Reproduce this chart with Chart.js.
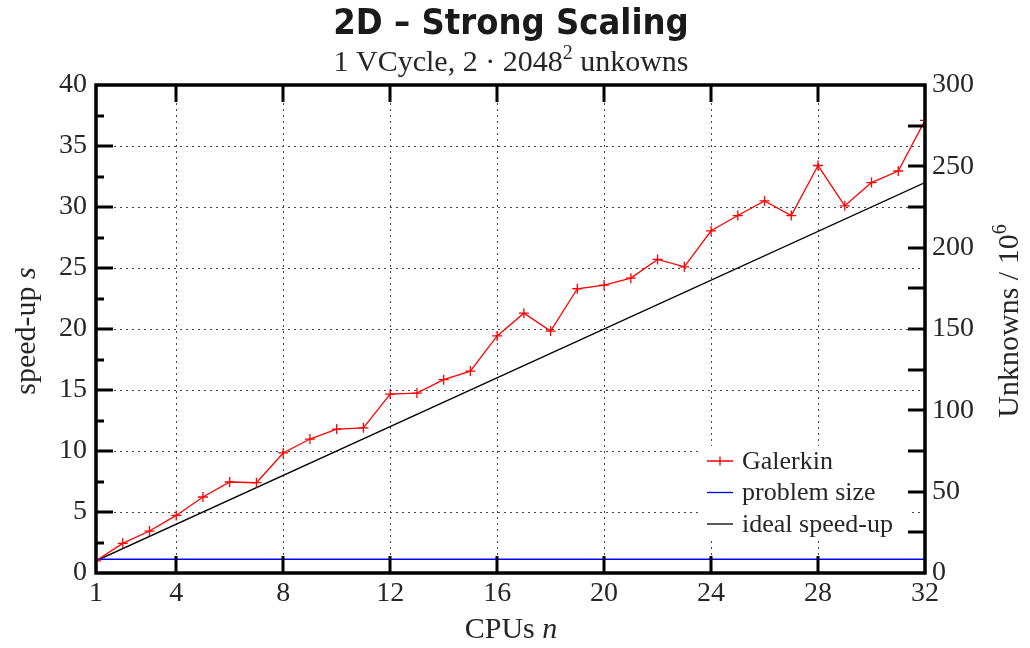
<!DOCTYPE html>
<html>
<head>
<meta charset="utf-8">
<title>2D Strong Scaling</title>
<script src="https://cdn.jsdelivr.net/npm/chart.js@4.4.1/dist/chart.umd.min.js"></script>
<style>
  html, body { margin: 0; padding: 0; background: #fff; }
  canvas { display: block; }
</style>
</head>
<body>
<canvas id="chart" width="1030" height="648"></canvas>
<script>
// measured speed-up per CPU count
const cpus = [1, 2, 3, 4, 5, 6, 7, 8, 9, 10, 11, 12, 13, 14, 15, 16,
              17, 18, 19, 20, 21, 22, 23, 24, 25, 26, 27, 28, 29, 30, 31, 32];
const galerkin = [1.0, 2.43, 3.44, 4.72, 6.23, 7.46, 7.4, 9.84, 10.98, 11.8, 11.9, 14.67,
                  14.75, 15.85, 16.55, 19.43, 21.3, 19.83, 23.3, 23.6, 24.17, 25.7, 25.1, 28.05,
                  29.3, 30.5, 29.3, 33.4, 30.1, 32.0, 32.95, 37.1];

// ideal speed-up s = n, drawn between its end points
const idealCpus = [1, 32];
const idealSpeedup = [1, 32];

// problem size in 10^6 unknowns (2 * 2048^2), constant over n
const sizeCpus = [1, 32];
const problemSize = [8.39, 8.39];

const xTicks = [1, 4, 8, 12, 16, 20, 24, 28, 32];
const speedupTicks = [0, 5, 10, 15, 20, 25, 30, 35, 40];
const unknownTicks = [0, 50, 100, 150, 200, 250, 300];

const SERIF = '"Liberation Serif", "DejaVu Serif", serif';
const TEXT = '#262626';

const pairs = (xs, ys) => xs.map((x, i) => ({ x: x, y: ys[i] }));

// draws a run of text pieces centred on (x, y), optionally rotated
function drawRich(ctx, parts, x, y, angle) {
  ctx.save();
  ctx.translate(x, y);
  if (angle) ctx.rotate(angle);
  ctx.textBaseline = 'middle';
  ctx.textAlign = 'left';
  let total = 0;
  parts.forEach(p => { ctx.font = p.font; total += ctx.measureText(p.text).width; });
  let cx = -total / 2;
  parts.forEach(p => {
    ctx.font = p.font;
    ctx.fillStyle = TEXT;
    ctx.fillText(p.text, cx, p.dy || 0);
    cx += ctx.measureText(p.text).width;
  });
  ctx.restore();
}

const legendItems = [
  { label: 'Galerkin', color: '#ff0000', marker: true },
  { label: 'problem size', color: '#0000ff', marker: false },
  { label: 'ideal speed-up', color: '#000000', marker: false }
];

const framePlugin = {
  id: 'frame',
  beforeDatasetsDraw(chart) {
    // blank out the grid behind the legend
    const ctx = chart.ctx;
    ctx.save();
    ctx.fillStyle = '#fff';
    ctx.fillRect(698, 446, 210, 92);
    ctx.restore();
  },
  afterDraw(chart) {
    const ctx = chart.ctx;
    const a = chart.chartArea;
    const xs = chart.scales.x, yl = chart.scales.y, yr = chart.scales.y2;
    ctx.save();
    ctx.strokeStyle = '#000';
    ctx.lineCap = 'butt';

    // inward ticks
    ctx.lineWidth = 3;
    ctx.beginPath();
    xTicks.slice(1, -1).forEach(v => {
      const px = Math.round(xs.getPixelForValue(v));
      ctx.moveTo(px, a.bottom); ctx.lineTo(px, a.bottom - 17);
      ctx.moveTo(px, a.top); ctx.lineTo(px, a.top + 17);
    });
    for (let v = 2.5; v < 40; v += 2.5) {
      const py = Math.round(yl.getPixelForValue(v));
      const len = (v % 5 === 0) ? 17 : 8;
      ctx.moveTo(a.left, py); ctx.lineTo(a.left + len, py);
    }
    for (let v = 25; v < 300; v += 25) {
      const py = Math.round(yr.getPixelForValue(v));
      ctx.moveTo(a.right, py); ctx.lineTo(a.right - 17, py);
    }
    ctx.stroke();

    // frame
    ctx.lineWidth = 3.5;
    ctx.strokeRect(a.left, a.top, a.right - a.left, a.bottom - a.top);

    // legend
    ctx.lineWidth = 1.3;
    legendItems.forEach((it, i) => {
      const y = 461 + i * 31.5;
      ctx.strokeStyle = it.color;
      ctx.beginPath();
      ctx.moveTo(707, y); ctx.lineTo(733, y);
      if (it.marker) {
        ctx.moveTo(720, y - 4.5); ctx.lineTo(720, y + 4.5);
      }
      ctx.stroke();
      ctx.fillStyle = TEXT;
      ctx.font = '26px ' + SERIF;
      ctx.textBaseline = 'middle';
      ctx.fillText(it.label, 742, y + 1);
    });

    // titles
    ctx.fillStyle = '#1a1a1a';
    ctx.font = 'bold 36px "DejaVu Sans Condensed", "Roboto", sans-serif';
    ctx.textAlign = 'center';
    ctx.textBaseline = 'middle';
    ctx.fillText('2D \u2013 Strong Scaling', 511, 25);

    const f = '30px ' + SERIF;
    const fs = '20px ' + SERIF;
    const fi = 'italic 30px ' + SERIF;
    drawRich(ctx, [
      { text: '1 VCycle, 2 \u00b7 2048', font: f },
      { text: '2', font: fs, dy: -9 },
      { text: ' unkowns', font: f }
    ], 511, 63, 0);

    drawRich(ctx, [
      { text: 'CPUs ', font: f },
      { text: 'n', font: fi }
    ], 511, 630, 0);

    drawRich(ctx, [
      { text: 'speed-up ', font: f },
      { text: 's', font: fi }
    ], 27, 331, -Math.PI / 2);

    drawRich(ctx, [
      { text: 'Unknowns / 10', font: f },
      { text: '6', font: fs, dy: -9 }
    ], 1010, 321, -Math.PI / 2);

    ctx.restore();
  }
};

const tickFont = { family: SERIF, size: 28 };

new Chart(document.getElementById('chart'), {
  type: 'line',
  data: {
    datasets: [
      {
        label: 'Galerkin',
        data: pairs(cpus, galerkin),
        yAxisID: 'y',
        borderColor: '#ff0000',
        borderWidth: 1.3,
        pointStyle: 'cross',
        pointRadius: 5,
        pointBorderWidth: 1.3,
        pointBorderColor: '#ff0000',
        tension: 0
      },
      {
        label: 'problem size',
        data: pairs(sizeCpus, problemSize),
        yAxisID: 'y2',
        borderColor: '#0000ff',
        borderWidth: 1.5,
        pointRadius: 0
      },
      {
        label: 'ideal speed-up',
        data: pairs(idealCpus, idealSpeedup),
        yAxisID: 'y',
        borderColor: '#000000',
        borderWidth: 1.3,
        pointRadius: 0
      }
    ]
  },
  options: {
    responsive: false,
    animation: false,
    devicePixelRatio: 1,
    layout: { padding: { top: 85, left: 0, right: 0, bottom: 0 } },
    plugins: {
      legend: { display: false },
      title: { display: false },
      tooltip: { enabled: false }
    },
    scales: {
      x: {
        type: 'linear',
        min: 1,
        max: 32,
        afterBuildTicks: s => { s.ticks = xTicks.map(v => ({ value: v })); },
        afterFit: s => { s.height = 75; },
        grid: { color: '#444', lineWidth: 1, drawTicks: false },
        border: { display: false, dash: [2, 4] },
        ticks: { font: tickFont, color: TEXT, padding: 4, autoSkip: false, maxRotation: 0 }
      },
      y: {
        position: 'left',
        min: 0,
        max: 40,
        afterBuildTicks: s => { s.ticks = speedupTicks.map(v => ({ value: v })); },
        afterFit: s => { s.width = 96; },
        grid: { color: '#444', lineWidth: 1, drawTicks: false },
        border: { display: false, dash: [2, 4] },
        ticks: { font: tickFont, color: TEXT, padding: 9, autoSkip: false }
      },
      y2: {
        position: 'right',
        min: 0,
        max: 300,
        afterBuildTicks: s => { s.ticks = unknownTicks.map(v => ({ value: v })); },
        afterFit: s => { s.width = 105; },
        grid: { display: false, drawTicks: false },
        border: { display: false },
        ticks: { font: tickFont, color: TEXT, padding: 7, autoSkip: false }
      }
    }
  },
  plugins: [framePlugin]
});
</script>
</body>
</html>
